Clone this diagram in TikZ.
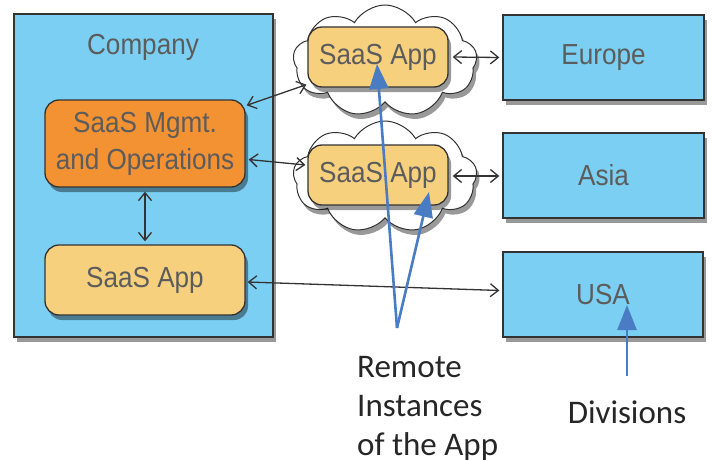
\documentclass[tikz,border=0pt]{standalone}
\usepackage{fontspec}
\setmainfont{Liberation Sans}
\newfontfamily\gfont[FakeStretch=0.9]{Liberation Sans}
\newfontfamily\calib{Carlito}
\usetikzlibrary{arrows.meta,shapes.symbols,shadows,calc}
\definecolor{boxblue}{HTML}{7BCFF2}
\definecolor{mgmtorange}{HTML}{F39233}
\definecolor{appyellow}{HTML}{F7D07E}
\definecolor{edge}{HTML}{333333}
\definecolor{graytext}{HTML}{5C5C5C}
\definecolor{callout}{HTML}{4A7CC4}
\begin{document}
\begin{tikzpicture}[x=1pt,y=-1pt,
  shad/.style={drop shadow={shadow xshift=3pt,shadow yshift=-5pt,fill=black,opacity=0.4}},
  bluebox/.style={draw=edge,line width=1.3pt,fill=boxblue,shad,inner sep=0pt,
     font=\gfont\fontsize{29}{37}\selectfont,text=graytext},
  appbox/.style={draw=edge,line width=1.3pt,rounded corners=14pt,inner sep=0pt,shad,
     font=\gfont\fontsize{29}{37}\selectfont,text=graytext,align=center},
  cloudnode/.style={cloud,cloud puffs=9,cloud puff arc=120,aspect=1.7,draw=edge,line width=1pt,
     fill=white,shad,inner sep=0pt},
  biarrow/.style={draw=edge,line width=1.3pt,{Straight Barb[length=8pt,width=13pt]}-{Straight Barb[length=8pt,width=13pt]}},
  callarrow/.style={draw=callout,line width=2.6pt,-{Triangle[length=25pt,width=19pt]}},
  calltext/.style={font=\calib\fontsize{33}{39}\selectfont,text=black!85,inner sep=0pt}
]
\useasboundingbox (0,0) rectangle (712,460);
\fill[white] (0,0) rectangle (712,460);

% company
\node[bluebox,minimum width=259pt,minimum height=323pt] (company) at (143.5,175.5) {};
\node[font=\gfont\fontsize{29}{37}\selectfont,text=graytext,anchor=base,inner sep=0pt] (complabel) at (143,55) {Company};
\node[appbox,fill=mgmtorange,minimum width=200pt,minimum height=87pt] (mgmt) at (145,143.5) {SaaS Mgmt.\\and Operations};
\node[appbox,fill=appyellow,minimum width=200pt,minimum height=70pt] (app0) at (145,280) {SaaS App};

% clouds
\node[cloudnode,minimum width=184pt,minimum height=112pt] (cloud1) at (385,61) {};
\node[cloudnode,minimum width=184pt,minimum height=112pt] (cloud2) at (385,177) {};
\node[appbox,fill=appyellow,minimum width=140pt,minimum height=60pt] (app1) at (378,57) {SaaS App};
\node[appbox,fill=appyellow,minimum width=140pt,minimum height=60pt] (app2) at (378,175) {SaaS App};

% divisions
\node[bluebox,minimum width=201pt,minimum height=85pt] (europe) at (603.5,57.5) {Europe};
\node[bluebox,minimum width=201pt,minimum height=85pt] (asia) at (603.5,175.5) {Asia};
\node[bluebox,minimum width=200pt,minimum height=85pt] (usa) at (603,294.5) {USA};

% black connectors
\draw[biarrow] ([shift={(1,6)}]mgmt.north east) -- ([shift={(-1,-3)}]app1.south west);
\draw[biarrow] ([shift={(3,16)}]mgmt.east) -- ([shift={(-2,-10)}]app2.west);
\draw[biarrow] ([shift={(4,0)}]app1.east) -- ([shift={(-3,0)}]europe.west);
\draw[biarrow] ([shift={(4,1)}]app2.east) -- ([shift={(-3,0.5)}]asia.west);
\draw[biarrow] ([shift={(2,2)}]app0.east) -- ([shift={(-3,-4)}]usa.west);
\draw[biarrow] ([shift={(0,4)}]mgmt.south) -- ([shift={(0,-3)}]app0.north);

% callouts
\node[calltext,align=left,anchor=north west] (remote) at (357,356) {Remote\\Instances\\of the App};
\node[calltext,anchor=base] (divisions) at (627,423) {Divisions};
\coordinate (apex) at (397,328);
\coordinate (divfoot) at (627,376);
\draw[callarrow] (apex) -- ([shift={(-1,7)}]app1.center);
\draw[callarrow] (apex) -- ([shift={(51,17)}]app2.center);
\draw[callarrow] (divfoot) -- ([shift={(24,10.5)}]usa.center);
\end{tikzpicture}
\end{document}
